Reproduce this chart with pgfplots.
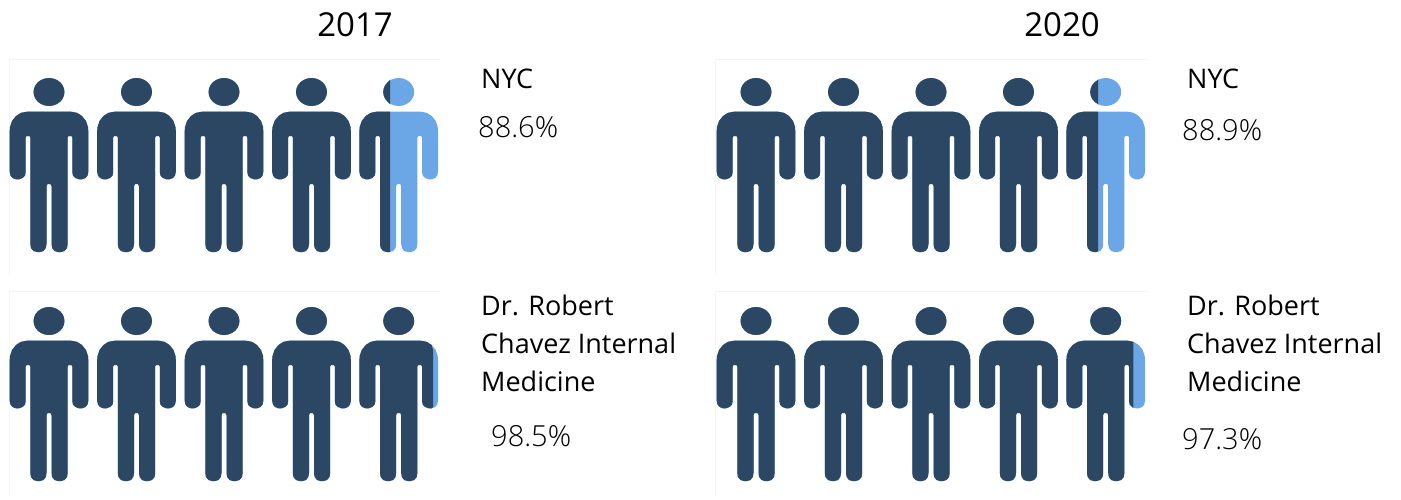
\documentclass[border=0pt]{standalone}
\usepackage{pgfplots}
\usepackage{pgfplotstable}
\usepackage{fontspec}
\pgfplotsset{compat=1.18}
\setmainfont{Open Sans}
\newfontfamily\lightfont{Open Sans Light}
\definecolor{dk}{HTML}{2C4763}
\definecolor{lt}{HTML}{6BA7E6}
\definecolor{edge}{HTML}{F5F5F5}
\pgfplotstableread{
x y
0 111.7
22 111.7
28 112.8
33 116
37 121
39 127
39.3 131
39.3 172
38.5 175.5
36.5 178
33 179.3
30 179.3
26.5 178
24 175.5
23.3 172
23.3 137.5
22.5 136
19.5 136
18.7 137.5
18.7 244
18 248
15.5 251
12 252
9 252
5.5 251
3.2 248
2.5 244
2.5 186
1.5 184
-1.5 184
-2.5 186
-2.5 244
-3.2 248
-5.5 251
-9 252
-12 252
-15.5 251
-18 248
-18.7 244
-18.7 137.5
-19.5 136
-22.5 136
-23.3 137.5
-23.3 172
-24 175.5
-26.5 178
-30 179.3
-33 179.3
-36.5 178
-38.5 175.5
-39.3 172
-39.3 131
-39 127
-37 121
-33 116
-28 112.8
-22 111.7
}\body
\pgfplotstableread{
x y
15.5 92
14.97 95.62
13.42 99
10.96 101.9
7.75 104.12
4.01 105.52
0 106
-4.01 105.52
-7.75 104.12
-10.96 101.9
-13.42 99
-14.97 95.62
-15.5 92
-14.97 88.38
-13.42 85
-10.96 82.1
-7.75 79.88
-4.01 78.48
0 78
4.01 78.48
7.75 79.88
10.96 82.1
13.42 85
14.97 88.38
}\head
% #1 centre x, #2 row offset y, #3 x where dark ends
\newcommand{\person}[3]{%
  \addplot[fill=lt,draw=none] table[x expr={\thisrow{x}+#1},y expr={\thisrow{y}+#2}] {\body};
  \addplot[fill=lt,draw=none] table[x expr={\thisrow{x}+#1},y expr={\thisrow{y}+#2}] {\head};
  \addplot[fill=dk,draw=none] table[x expr={min(\thisrow{x}+#1,#3)},y expr={\thisrow{y}+#2}] {\body};
  \addplot[fill=dk,draw=none] table[x expr={min(\thisrow{x}+#1,#3)},y expr={\thisrow{y}+#2}] {\head};
}
\newcommand{\lab}[3]{\node[anchor=base west,inner sep=0pt,font=\fontsize{27}{27}\selectfont,text=black] at (axis cs:#1,#2) {#3};}
\newcommand{\pct}[3]{\node[anchor=base west,inner sep=0pt,font=\fontsize{29}{29}\selectfont\lightfont,text=black] at (axis cs:#1,#2) {#3};}
\begin{document}
\begin{tikzpicture}
\path[use as bounding box] (0,0) rectangle (1401pt,499pt);
\begin{axis}[
  at={(0,0)},anchor=south west,
  scale only axis,width=1401pt,height=499pt,
  xmin=0,xmax=1401,ymin=0,ymax=499,y dir=reverse,
  hide axis,clip=false]
% faint panel edges
\addplot[edge,line width=1pt] coordinates {(9,275) (9,59) (440,59)};
\addplot[edge,line width=1pt] coordinates {(715,275) (715,59) (1147,59)};
\addplot[edge,line width=1pt] coordinates {(9,497) (9,291) (440,291)};
\addplot[edge,line width=1pt] coordinates {(715,497) (715,291) (1147,291)};
% 2017 NYC
\person{49}{0}{2000}\person{136.5}{0}{2000}\person{224}{0}{2000}\person{311.5}{0}{2000}\person{398.7}{0}{390}
% 2017 clinic
\person{49}{229}{2000}\person{136.5}{229}{2000}\person{224}{229}{2000}\person{311.5}{229}{2000}\person{398.7}{229}{433}
% 2020 NYC
\person{756}{0}{2000}\person{843.5}{0}{2000}\person{931}{0}{2000}\person{1018.5}{0}{2000}\person{1105.7}{0}{1098}
% 2020 clinic
\person{756}{229}{2000}\person{843.5}{229}{2000}\person{931}{229}{2000}\person{1018.5}{229}{2000}\person{1105.7}{229}{1133.3}
\node[anchor=base,inner sep=0pt,font=\fontsize{33}{33}\selectfont] at (axis cs:355,36) {2017};
\node[anchor=base,inner sep=0pt,font=\fontsize{33}{33}\selectfont] at (axis cs:1062,36) {2020};
\lab{481}{88.3}{NYC}
\pct{478}{137.3}{88.6\%}
\lab{481}{315.7}{Dr. Robert}
\lab{481}{353.7}{Chavez Internal}
\lab{481}{391}{Medicine}
\pct{491}{446}{98.5\%}
\lab{1187}{88.3}{NYC}
\pct{1182}{140}{88.9\%}
\lab{1187}{315.7}{Dr. Robert}
\lab{1187}{353.7}{Chavez Internal}
\lab{1187}{391}{Medicine}
\pct{1182}{449.3}{97.3\%}
\end{axis}
\end{tikzpicture}
\end{document}
